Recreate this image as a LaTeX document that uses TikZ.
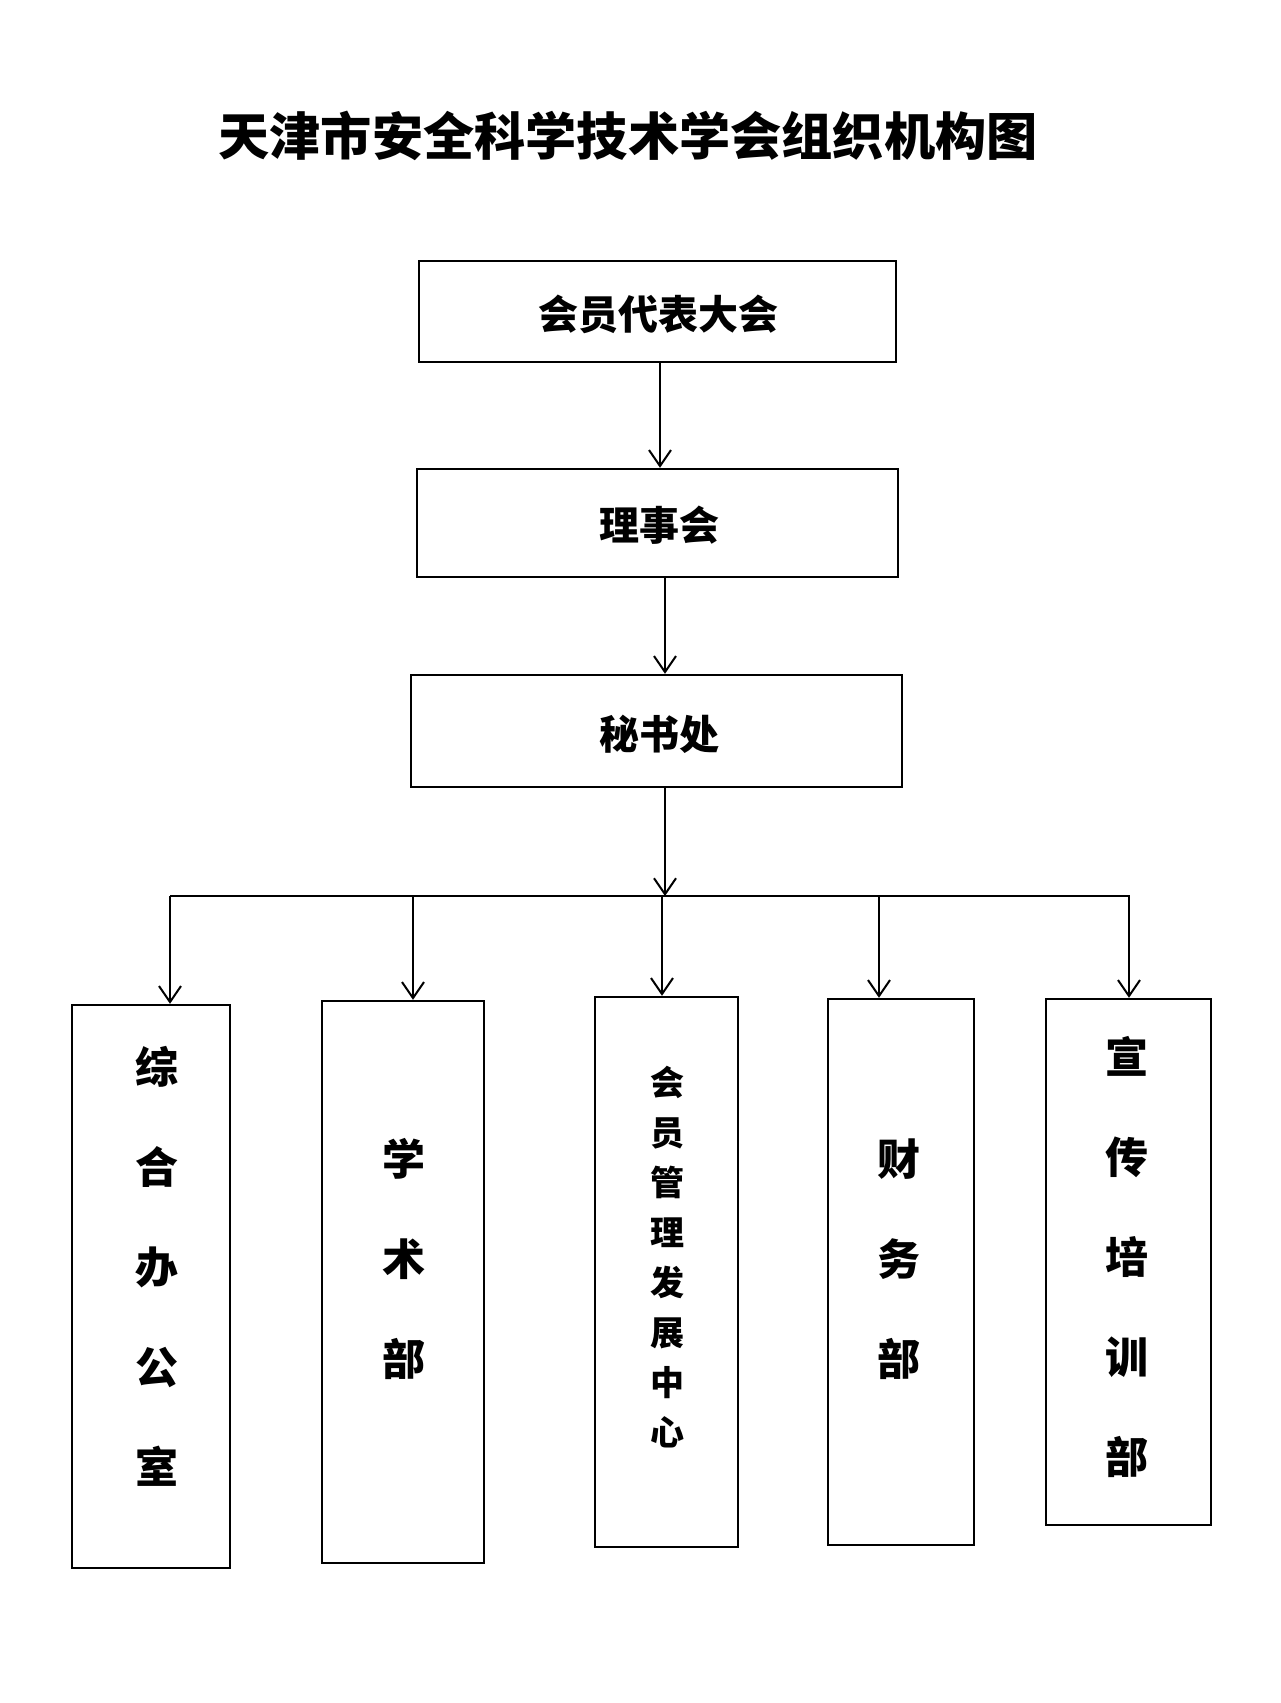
\documentclass[tikz,border=0pt]{standalone}
\usepackage{fontspec}
\setmainfont{Noto Sans CJK SC}
\usetikzlibrary{arrows.meta}
\begin{document}
\begin{tikzpicture}[x=0.5pt,y=-0.5pt,
  box/.style={draw,line width=1.2pt,inner sep=0pt},
  conn/.style={line width=1pt,-{Straight Barb[length=8pt,width=11pt,line width=1pt]}},
  btext/.style={font=\fontsize{20}{24}\selectfont\bfseries},
  vtext/.style={align=center,font=\fontsize{21.5}{50}\selectfont\bfseries,inner sep=0pt},
  vsmall/.style={align=center,font=\fontsize{17}{25}\selectfont\bfseries,inner sep=0pt}]
\useasboundingbox (0,0) rectangle (1280,1703);
\fill[white] (0,0) rectangle (1280,1703);
\node[font=\fontsize{25.6}{30}\selectfont\bfseries] (title) at (628,136) {天津市安全科学技术学会组织机构图};
% top boxes
\node[box,minimum width=238.5pt,minimum height=50.5pt] (b1) at (657.5,311.5) {};
\node[btext] (t1) at (658,314) {会员代表大会};
\node[box,minimum width=240.5pt,minimum height=54pt] (b2) at (657.5,523) {};
\node[btext] (t2) at (659,525) {理事会};
\node[box,minimum width=245.5pt,minimum height=56pt] (b3) at (656.5,731) {};
\node[btext] (t3) at (659,734) {秘书处};
% bottom boxes
\node[box,minimum width=79pt,minimum height=281.5pt] (d1) at (151,1286.5) {};
\node[box,minimum width=81pt,minimum height=281pt] (d2) at (403,1282) {};
\node[box,minimum width=71.5pt,minimum height=275pt] (d3) at (666.5,1272) {};
\node[box,minimum width=73pt,minimum height=273pt] (d4) at (901,1272) {};
\node[box,minimum width=82.5pt,minimum height=263pt] (d5) at (1128.5,1262) {};
\node[vtext] (v1) at (157,1266) {综\\合\\办\\公\\室};
\node[vtext] (v2) at (404,1259) {学\\术\\部};
\node[vsmall] (v3) at (667,1257) {会\\员\\管\\理\\发\\展\\中\\心};
\node[vtext] (v4) at (899,1259) {财\\务\\部};
\node[vtext] (v5) at (1127,1257) {宣\\传\\培\\训\\部};
% connectors
\coordinate (a1) at (660,0);
\coordinate (a2) at (665,0);
\draw[conn] (a1 |- b1.south) -- (a1 |- b2.north);
\draw[conn] (a2 |- b2.south) -- (a2 |- b3.north);
\coordinate (hl) at (170,896);
\coordinate (hr) at (1130,896);
\coordinate (hm) at (665,896);
\draw[conn] (a2 |- b3.south) -- (hm);
\draw[line width=1pt] (hl) -- (hr);
\coordinate (p1) at (170,896);
\coordinate (p2) at (413,896);
\coordinate (p3) at (662,896);
\coordinate (p4) at (879,896);
\coordinate (p5) at (1129,896);
\draw[conn] (p1) -- (p1 |- d1.north);
\draw[conn] (p2) -- (p2 |- d2.north);
\draw[conn] (p3) -- (p3 |- d3.north);
\draw[conn] (p4) -- (p4 |- d4.north);
\draw[conn] (p5) -- (p5 |- d5.north);
\end{tikzpicture}
\end{document}
